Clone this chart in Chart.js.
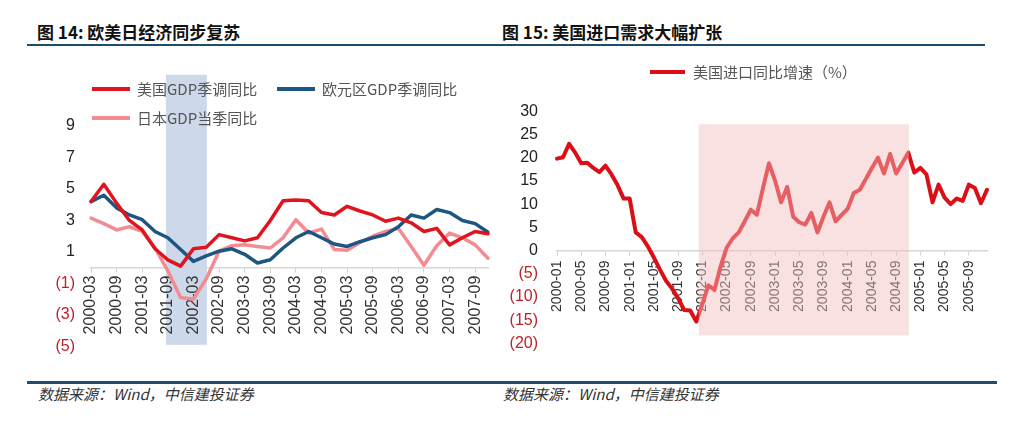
<!DOCTYPE html>
<html>
<head>
<meta charset="utf-8">
<script src="https://cdn.jsdelivr.net/npm/chart.js@4"></script>
<style>
body { margin: 0; width: 1024px; height: 421px; background: #fff; position: relative; overflow: hidden; font-family: "Noto Sans CJK SC", sans-serif; }
.title { position: absolute; top: 21px; font-size: 17px; font-weight: bold; color: #111; line-height: 22px; }
.rule { position: absolute; background: #1d4d6e; }
.src { position: absolute; top: 384px; font-size: 15px; font-style: italic; color: #333; line-height: 20px; }
canvas { position: absolute; }
</style>
</head>
<body>
<div class="title" style="left:37px">图 14: 欧美日经济同步复苏</div>
<div class="title" style="left:502px">图 15: 美国进口需求大幅扩张</div>
<div class="rule" style="left:27px;top:44px;width:958px;height:2px"></div>
<div class="rule" style="left:27px;top:381px;width:970px;height:3px"></div>
<div class="src" style="left:38px">数据来源：Wind，中信建投证券</div>
<div class="src" style="left:503px">数据来源：Wind，中信建投证券</div>
<canvas id="gdpChart" width="512" height="322" style="left:0;top:50px"></canvas>
<canvas id="importChart" width="544" height="322" style="left:480px;top:50px"></canvas>
<script>
// 图14 季度数据
const quarters = [
  '2000-03','2000-06','2000-09','2000-12','2001-03','2001-06','2001-09','2001-12',
  '2002-03','2002-06','2002-09','2002-12','2003-03','2003-06','2003-09','2003-12',
  '2004-03','2004-06','2004-09','2004-12','2005-03','2005-06','2005-09','2005-12',
  '2006-03','2006-06','2006-09','2006-12','2007-03','2007-06','2007-09','2007-12'
];
const usGdp = [4.2, 5.3, 4.1, 3.0, 2.4, 1.2, 0.5, 0.1, 1.2, 1.3, 2.1, 1.9, 1.7, 1.9, 3.0, 4.25,
  4.3, 4.25, 3.5, 3.35, 3.9, 3.6, 3.35, 2.95, 3.15, 2.85, 2.3, 2.5, 1.45, 1.9, 2.3, 2.15];
const euGdp = [4.2, 4.6, 3.8, 3.35, 3.05, 2.3, 1.9, 1.15, 0.4, 0.75, 1.05, 1.2, 0.85, 0.3, 0.5, 1.25,
  1.9, 2.3, 1.9, 1.5, 1.35, 1.65, 1.9, 2.1, 2.6, 3.35, 3.15, 3.7, 3.5, 3.0, 2.8, 2.25];
const jpGdp = [3.15, 2.8, 2.4, 2.6, 2.3, 1.25, -0.2, -1.9, -2.0, -0.7, 1.05, 1.4, 1.45, 1.35, 1.25, 1.9,
  3.05, 2.2, 2.45, 1.15, 1.1, 1.6, 2.0, 2.3, 2.5, 1.35, 0.15, 1.4, 2.2, 1.9, 1.45, 0.6];
const gdpTicks = { min: -5, max: 9, step: 2 };

// 图15 月度数据
const months = [
  '2000-01','2000-02','2000-03','2000-04','2000-05','2000-06','2000-07','2000-08','2000-09','2000-10','2000-11','2000-12',
  '2001-01','2001-02','2001-03','2001-04','2001-05','2001-06','2001-07','2001-08','2001-09','2001-10','2001-11','2001-12',
  '2002-01','2002-02','2002-03','2002-04','2002-05','2002-06','2002-07','2002-08','2002-09','2002-10','2002-11','2002-12',
  '2003-01','2003-02','2003-03','2003-04','2003-05','2003-06','2003-07','2003-08','2003-09','2003-10','2003-11','2003-12',
  '2004-01','2004-02','2004-03','2004-04','2004-05','2004-06','2004-07','2004-08','2004-09','2004-10','2004-11','2004-12',
  '2005-01','2005-02','2005-03','2005-04','2005-05','2005-06','2005-07','2005-08','2005-09','2005-10','2005-11','2005-12'
];
const importYoY = [
  19.8, 20.1, 23.0, 21.1, 18.8, 18.9, 17.8, 16.9, 18.3, 16.4, 14.1, 11.2,
  11.2, 3.9, 2.9, 0.9, -1.5, -4.1, -6.5, -8.2, -10.3, -12.8, -12.9, -15.3,
  -11.5, -7.5, -8.5, -3.5, 0.6, 2.6, 3.9, 6.3, 8.8, 7.7, 13.4, 18.8,
  15.1, 10.4, 13.7, 7.3, 6.1, 5.6, 8.1, 3.9, 7.3, 10.4, 6.3, 7.7,
  9.0, 12.4, 13.1, 15.4, 17.8, 20.0, 16.6, 20.8, 16.6, 18.8, 21.1, 16.8,
  17.8, 16.4, 10.4, 14.2, 11.4, 10.0, 11.2, 10.7, 14.2, 13.5, 10.2, 13.1
];
const importTicks = { min: -20, max: 30, step: 5 };

// 阴影区间（类别索引 / 数值）
const gdpBand = { from: 5.85, to: 9.05, top: 12.25, bottom: -4.9 };
const importBand = { from: 23.4, to: 58.1, top: 27.2, bottom: -18.3 };

const tickFont = { family: 'Liberation Sans, Arial', size: 16 };

// 阴影带
const bandPlugin = {
  id: 'band',
  draw(chart, opts) {
    const x = chart.scales.x, y = chart.scales.y, ctx = chart.ctx;
    const x0 = x.getPixelForValue(opts.from), x1 = x.getPixelForValue(opts.to);
    const y0 = y.getPixelForValue(opts.top), y1 = y.getPixelForValue(opts.bottom);
    ctx.save();
    ctx.fillStyle = opts.color;
    ctx.fillRect(x0, y0, x1 - x0, y1 - y0);
    ctx.restore();
  },
  beforeDraw(chart, args, opts) { if (!opts.front) this.draw(chart, opts); },
  afterDraw(chart, args, opts) { if (opts.front) this.draw(chart, opts); }
};

// 图例（线段 + 文字）
const lineLegend = {
  id: 'lineLegend',
  afterDraw(chart, args, opts) {
    const ctx = chart.ctx;
    ctx.save();
    chart.data.datasets.forEach((ds, i) => {
      const [px, py] = opts.at[i];
      ctx.strokeStyle = ds.borderColor;
      ctx.lineWidth = 4;
      ctx.beginPath();
      ctx.moveTo(px, py);
      ctx.lineTo(px + opts.len, py);
      ctx.stroke();
      ctx.fillStyle = '#555';
      ctx.font = '15px "Noto Sans CJK SC"';
      ctx.textBaseline = 'middle';
      ctx.fillText(ds.label, px + opts.len + opts.gap, py);
    });
    ctx.restore();
  }
};

function yAxis(t, pad, width) {
  return {
    min: t.min, max: t.max,
    grid: { display: false, drawTicks: false },
    border: { display: false },
    afterFit: s => { s.width = width; },
    ticks: {
      stepSize: t.step, padding: pad, font: tickFont,
      color: c => c.tick.value < 0 ? '#c0202a' : '#222',
      callback: v => v < 0 ? '(' + (-v) + ')' : String(v)
    }
  };
}

function xAxis(every, fontSize, pad) {
  return {
    position: { y: 0 },
    offset: false,
    grid: { drawOnChartArea: false, drawTicks: true, tickLength: 4, color: '#d0d0d0' },
    border: { color: '#d6d6d6', width: 1.5 },
    ticks: {
      autoSkip: false, minRotation: 90, maxRotation: 90, padding: pad,
      font: { family: 'Liberation Sans, Arial', size: fontSize }, color: '#333',
      callback: function (v, i) { return i % every === 0 ? this.getLabelForValue(v) : null; }
    }
  };
}

const lineDefaults = { pointRadius: 0, tension: 0, fill: false, borderJoinStyle: 'round', borderCapStyle: 'round' };

new Chart(document.getElementById('gdpChart'), {
  type: 'line',
  data: {
    labels: quarters,
    datasets: [
      { label: '美国GDP季调同比', data: usGdp, borderColor: '#e0141e', borderWidth: 3.5, ...lineDefaults },
      { label: '欧元区GDP季调同比', data: euGdp, borderColor: '#1d5680', borderWidth: 3.5, ...lineDefaults },
      { label: '日本GDP当季同比', data: jpGdp, borderColor: '#f28c92', borderWidth: 3.5, ...lineDefaults }
    ]
  },
  options: {
    responsive: false,
    animation: false,
    layout: { padding: { left: 21, right: 24, top: 76, bottom: 23.5 } },
    plugins: {
      legend: { display: false },
      tooltip: { enabled: false },
      band: { ...gdpBand, color: '#cdd9ea', front: false },
      lineLegend: { at: [[92, 39], [277, 39], [92, 68]], len: 38, gap: 7 }
    },
    scales: { x: xAxis(2, 16, 4), y: yAxis(gdpTicks, 16, 70) }
  },
  plugins: [bandPlugin, lineLegend]
});

new Chart(document.getElementById('importChart'), {
  type: 'line',
  data: {
    labels: months,
    datasets: [
      { label: '美国进口同比增速（%）', data: importYoY, borderColor: '#dc0f16', borderWidth: 4, ...lineDefaults }
    ]
  },
  options: {
    responsive: false,
    animation: false,
    layout: { padding: { left: 2, right: 37, top: 61.3, bottom: 13.7 } },
    plugins: {
      legend: { display: false },
      tooltip: { enabled: false },
      band: { ...importBand, color: 'rgba(242,190,190,0.46)', front: true },
      lineLegend: { at: [[170, 22]], len: 35, gap: 8 }
    },
    scales: { x: xAxis(4, 14, 6), y: yAxis(importTicks, 19, 75) }
  },
  plugins: [bandPlugin, lineLegend]
});
</script>
</body>
</html>
